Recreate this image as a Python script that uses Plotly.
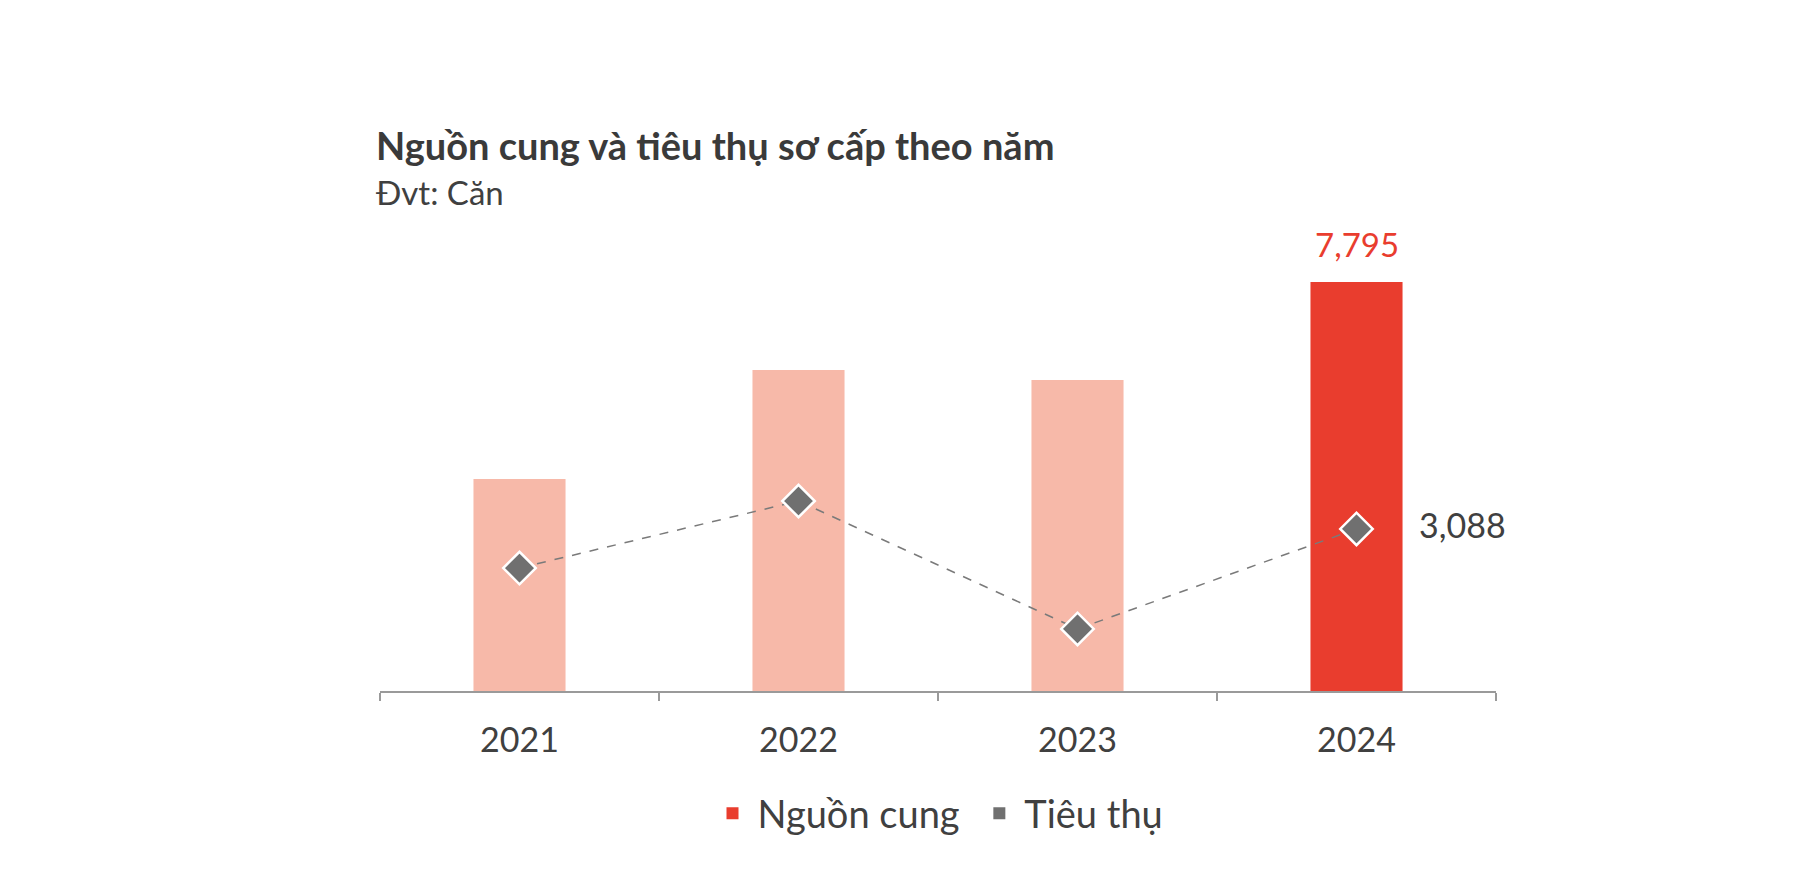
import plotly.graph_objects as go

years = ["2021", "2022", "2023", "2024"]
supply = [4040, 6118, 5927, 7795]
consumption = [2344, 3621, 1182, 3088]
supply_colors = ["#F7B9A9", "#F7B9A9", "#F7B9A9", "#E93D2E"]

FONT = "Lato"
TXT = "#404040"

fig = go.Figure()
fig.add_trace(go.Bar(
    x=years, y=supply, marker=dict(color=supply_colors, line=dict(width=0)),
    width=0.33, showlegend=False, hoverinfo="skip"))
fig.add_trace(go.Scatter(
    x=years, y=consumption, mode="lines+markers",
    line=dict(color="#7a7a7a", width=1.5, dash="dash"),
    marker=dict(symbol="diamond", size=25, color="#707070",
                line=dict(color="white", width=2.5)),
    showlegend=False, hoverinfo="skip"))
# legend entries
fig.add_trace(go.Scatter(x=[None], y=[None], mode="markers", name="Nguồn cung ",
                         marker=dict(symbol="square", size=17, color="#E93D2E")))
fig.add_trace(go.Scatter(x=[None], y=[None], mode="markers", name="Tiêu thụ",
                         marker=dict(symbol="square", size=17, color="#707070")))

last = len(years) - 1
fig.add_annotation(x=last, y=supply[-1], text=f"{supply[-1]:,}", showarrow=False,
                   yshift=38, font=dict(family=FONT, size=33, color="#E93D2E"))
fig.add_annotation(x=last, y=consumption[-1], text=f"{consumption[-1]:,}", showarrow=False,
                   xanchor="left", xshift=60, yshift=4, font=dict(family=FONT, size=34, color=TXT))

fig.add_annotation(xref="paper", yref="paper", x=0, y=1.225, xanchor="left", yanchor="middle",
                   xshift=-6, text="<b>Nguồn cung và tiêu thụ sơ cấp theo năm</b>", showarrow=False,
                   font=dict(family=FONT, size=38, color="#3a3a3a"))
fig.add_annotation(xref="paper", yref="paper", x=0, y=1.118, xanchor="left", yanchor="middle",
                   xshift=-6, text="Đvt: Căn", showarrow=False,
                   font=dict(family=FONT, size=33, color=TXT))

fig.update_layout(
    width=1808, height=882,
    margin=dict(l=372, r=320, t=237, b=199),
    paper_bgcolor="white", plot_bgcolor="white",
    font=dict(family=FONT, color=TXT),
    showlegend=True,
    legend=dict(orientation="h", x=0.5, xanchor="center", y=-0.275, yanchor="middle",
                font=dict(family=FONT, size=38, color=TXT), itemsizing="constant",
                itemwidth=40, traceorder="normal"),
    xaxis=dict(type="category", showline=True, linecolor="#9a9a9a", linewidth=1.5,
               ticks="outside", tickson="boundaries", ticklen=8, tickcolor="#9a9a9a",
               tickwidth=1.5, showgrid=False, tickfont=dict(family=FONT, size=34, color=TXT),
               ticklabelstandoff=18, range=[-0.5, 3.5], fixedrange=True),
    yaxis=dict(visible=False, range=[0, 8500], showgrid=False, zeroline=False, fixedrange=True),
)

fig.write_html("out.html")
